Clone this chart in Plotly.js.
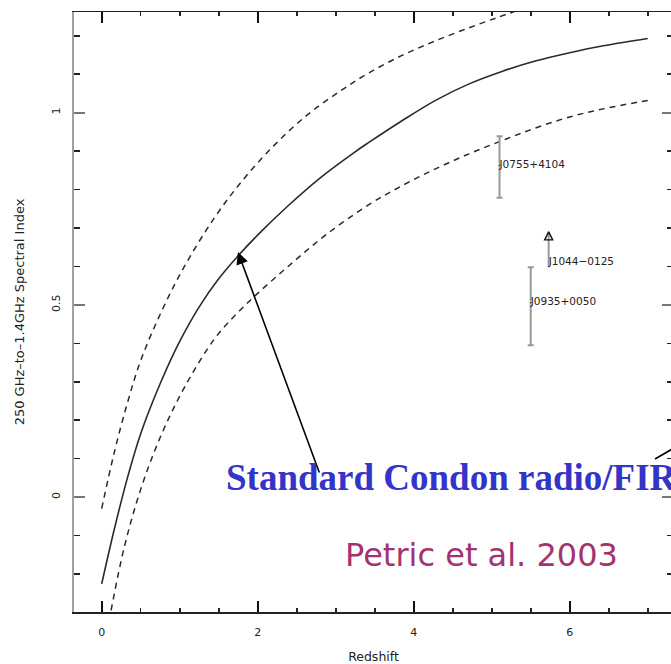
<!DOCTYPE html>
<html>
<head>
<meta charset="utf-8">
<script src="https://cdn.plot.ly/plotly-3.0.1.min.js"></script>
<style>
html,body{margin:0;padding:0;background:#fff;overflow:hidden;}
#chart{width:675px;height:664px;}
</style>
</head>
<body>
<div id="chart"></div>
<script>
// Standard Condon radio/FIR relation (solid) and its spread (dashed)
const redshiftModel = [0.0, 0.16, 0.33, 0.5, 0.76, 1.0, 1.25, 1.5, 1.75, 2.04, 2.39, 2.81, 3.24, 3.42, 3.85, 4.28, 4.71, 5.14, 5.57, 6.0, 6.43, 7.0];
const indexModel    = [-0.226, -0.085, 0.05, 0.165, 0.3, 0.405, 0.495, 0.568, 0.628, 0.69, 0.758, 0.832, 0.897, 0.922, 0.979, 1.032, 1.075, 1.108, 1.135, 1.156, 1.174, 1.193];

const redshiftUpper = [0.0, 0.16, 0.33, 0.5, 0.76, 1.06, 1.44, 1.79, 2.21, 2.64, 3.07, 3.42, 3.85, 4.28, 4.71, 5.05, 5.3];
const indexUpper    = [-0.03, 0.115, 0.245, 0.355, 0.48, 0.6, 0.725, 0.82, 0.915, 0.995, 1.058, 1.103, 1.149, 1.187, 1.221, 1.246, 1.264];

const redshiftLower = [0.12, 0.29, 0.5, 0.76, 1.06, 1.44, 1.72, 2.0, 2.39, 2.86, 3.42, 3.85, 4.28, 4.71, 5.14, 5.57, 6.0, 6.43, 7.0];
const indexLower    = [-0.295, -0.13, 0.02, 0.16, 0.285, 0.41, 0.475, 0.53, 0.6, 0.68, 0.76, 0.81, 0.854, 0.893, 0.928, 0.961, 0.989, 1.01, 1.032];

// Sources with error bars
const sourceNames = ["J0755+4104", "J0935+0050"];
const sourceZ     = [5.10, 5.50];
const sourceIndex = [0.863, 0.506];
const errPlus     = [0.076, 0.092];
const errMinus    = [0.084, 0.111];

// Lower-limit source
const limitName  = ["J1044\u22120125"];
const limitZ     = [5.73];
const limitIndex = [0.69];
const limitLen   = [0.092];

// Source label anchors
const labelText  = ["J0755+4104", "J0935+0050", "J1044\u22120125"];
const labelZ     = [5.10, 5.50, 5.73];
const labelIndex = [0.863, 0.506, 0.611];

const xRange = [-0.355, 7.324];
const yRange = [-0.299, 1.262];

const curveColor = "#2a2a2a";
const traces = [
  {x: redshiftModel, y: indexModel, mode: "lines", line: {color: curveColor, width: 1.6, shape: "spline", smoothing: 1}, hoverinfo: "skip"},
  {x: redshiftUpper, y: indexUpper, mode: "lines", line: {color: curveColor, width: 1.5, dash: "6px,5px", shape: "spline", smoothing: 1}, hoverinfo: "skip"},
  {x: redshiftLower, y: indexLower, mode: "lines", line: {color: curveColor, width: 1.5, dash: "6px,5px", shape: "spline", smoothing: 1}, hoverinfo: "skip"},
  {x: sourceZ, y: sourceIndex, mode: "markers", name: "sources", text: sourceNames,
   marker: {color: "#222", size: [3, 4], symbol: ["circle", "triangle-down"]},
   error_y: {type: "data", symmetric: false, array: errPlus, arrayminus: errMinus, color: "#999", thickness: 2, width: 3}},
  {x: limitZ, y: limitIndex, mode: "markers", name: "limit", text: limitName,
   marker: {color: "#111", size: 8, symbol: "arrow-up-open", line: {width: 1.4, color: "#111"}},
   error_y: {type: "data", symmetric: false, array: [0], arrayminus: limitLen, color: "#999", thickness: 2, width: 0}},
  {x: labelZ, y: labelIndex, mode: "text", text: labelText, textposition: "middle right",
   textfont: {family: "DejaVu Sans", size: 10.5, color: "#222"}, hoverinfo: "skip"}
];

const layout = {
  width: 675, height: 664,
  margin: {l: 74, r: 2, t: 12, b: 52},
  paper_bgcolor: "#fff", plot_bgcolor: "#fff",
  showlegend: false,
  font: {family: "DejaVu Sans", color: "#222"},
  // frame + ticks
  xaxis: {
    range: xRange, showgrid: false, zeroline: false,
    showline: true, linecolor: "#222", linewidth: 1.5, mirror: "allticks",
    tickmode: "linear", tick0: 0, dtick: 2, showticklabels: false,
    ticks: "inside", ticklen: 11, tickwidth: 2, tickcolor: "#111",
    minor: {tickmode: "linear", tick0: 0, dtick: 0.5, ticks: "inside", ticklen: 4, tickwidth: 1.6, tickcolor: "#222", showgrid: false}
  },
  yaxis: {
    range: yRange, showgrid: false, zeroline: false,
    showline: true, linecolor: "#a0a0a0", linewidth: 2.5, mirror: "allticks",
    tickmode: "linear", tick0: 0, dtick: 0.5, showticklabels: false,
    ticks: "inside", ticklen: 11, tickwidth: 2, tickcolor: "#777",
    minor: {tickmode: "linear", tick0: 0, dtick: 0.1, ticks: "inside", ticklen: 6, tickwidth: 1.6, tickcolor: "#222", showgrid: false}
  },
  // labels + titles
  xaxis2: {
    overlaying: "x", anchor: "y", side: "bottom", range: xRange,
    showgrid: false, zeroline: false, showline: false, ticks: "",
    tickmode: "linear", tick0: 0, dtick: 2,
    tickfont: {size: 11, color: "#222"}, ticklabelstandoff: 12,
    title: {text: "Redshift", font: {size: 12.5, color: "#222"}, standoff: 14}
  },
  yaxis2: {
    overlaying: "y", anchor: "x", side: "left", range: yRange,
    showgrid: false, zeroline: false, showline: false, ticks: "",
    tickmode: "linear", tick0: 0, dtick: 0.5, tickangle: -90,
    tickfont: {size: 11, color: "#222"}, ticklabelstandoff: 11,
    title: {text: "250 GHz\u2013to\u20131.4GHz Spectral Index", font: {size: 13, color: "#222"}, standoff: 22}
  },
  annotations: [
    {xref: "x", yref: "y", axref: "x", ayref: "y", x: 1.747, y: 0.6375, ax: 2.797, ay: 0.06,
     text: "", showarrow: true, arrowhead: 2, arrowsize: 1.5, arrowwidth: 1.6, arrowcolor: "#000", standoff: 0},
    {xref: "paper", yref: "paper", x: (224 - 74) / 599, y: (612 - 477.5) / 600, xanchor: "left", yanchor: "middle",
     text: "<b>Standard Condon radio/FIR</b>", showarrow: false,
     font: {family: "Liberation Serif", size: 37, color: "#3434c8"}},
    {xref: "paper", yref: "paper", x: (343 - 74) / 599, y: (612 - 555) / 600, xanchor: "left", yanchor: "middle",
     text: "Petric et al. 2003", showarrow: false,
     font: {family: "DejaVu Sans", size: 32, color: "#a3336f"}}
  ],
  shapes: [
    {type: "line", xref: "paper", yref: "paper", x0: (655 - 74) / 599, y0: (612 - 459) / 600, x1: (700 - 74) / 599, y1: (612 - 433) / 600,
     line: {color: "#000", width: 1.6}}
  ]
};

// invisible trace so the label axes are drawn
traces.push({x: [xRange[0]], y: [yRange[0]], xaxis: "x2", yaxis: "y2", mode: "markers", marker: {opacity: 0}, hoverinfo: "skip"});

Plotly.newPlot("chart", traces, layout, {staticPlot: true, displayModeBar: false});
</script>
</body>
</html>
